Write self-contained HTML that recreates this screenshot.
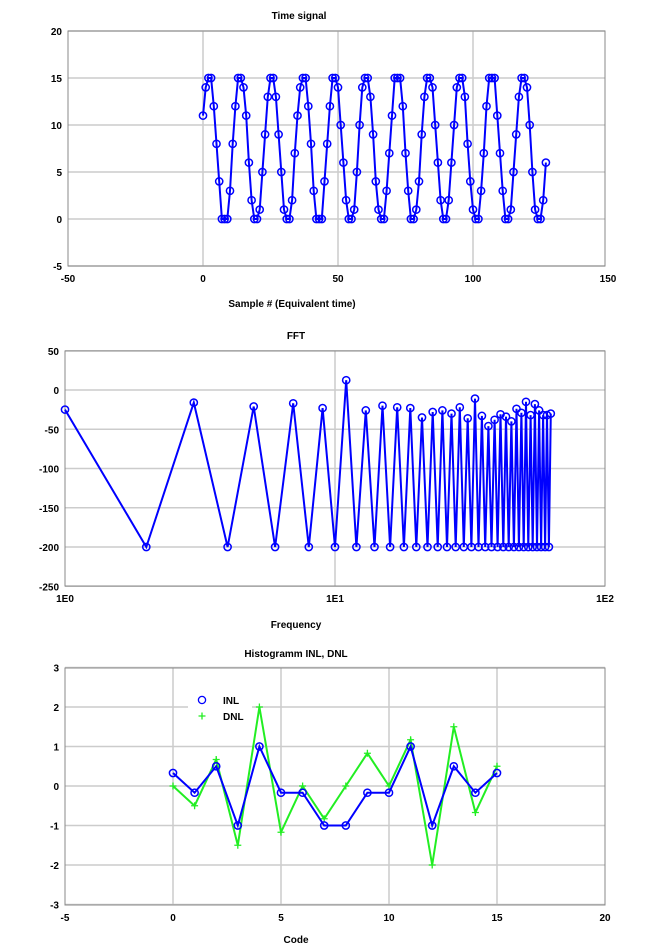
<!DOCTYPE html>
<html><head><style>
body{margin:0;background:#fff;}
svg{display:block;font-family:"Liberation Sans",sans-serif;font-weight:bold;}
</style></head><body>
<svg id="s" width="652" height="943" xmlns="http://www.w3.org/2000/svg"></svg>
<script>
const s=document.getElementById('s');let h='';
function box(x0,y0,x1,y1){h+=`<rect x="${x0}" y="${y0}" width="${x1-x0}" height="${y1-y0}" fill="none" stroke="#888" stroke-width="1"/>`;}
function t(x,y,str,anchor,size){h+=`<text x="${x}" y="${y}" font-size="${size||10}" text-anchor="${anchor||'middle'}">${str}</text>`;}
function gl(x1,y1,x2,y2){h+=`<line x1="${x1}" y1="${y1}" x2="${x2}" y2="${y2}" stroke="#ccc" stroke-width="1.5"/>`;}
function poly(pts,col,w){h+=`<polyline points="${pts.map(p=>p[0].toFixed(1)+','+p[1].toFixed(1)).join(' ')}" fill="none" stroke="${col}" stroke-width="${w||2}"/>`;}
function circ(pts){pts.forEach(p=>{h+=`<circle cx="${p[0].toFixed(1)}" cy="${p[1].toFixed(1)}" r="3.6" fill="none" stroke="#00f" stroke-width="1.5"/>`;});}
// Chart 1
{const X=v=>203+v*2.7,Y=v=>219-v*9.4;
for(let v=-5;v<=20;v+=5)gl(68,Y(v),605,Y(v));
for(let v=0;v<=100;v+=50)gl(X(v),31,X(v),266);
box(68,31,605,266);
t(299,19,'Time signal');
for(let v=-5;v<=20;v+=5)t(62,Y(v)+4,v,'end');
for(let v=-50;v<=150;v+=50)t(X(v),282,v);
t(292,307,'Sample # (Equivalent time)');
let p=[];for(let n=0;n<128;n++){let v=Math.round(7.5+8.4*Math.sin(2*Math.PI*11*n/128+0.38));v=Math.max(0,Math.min(15,v));p.push([X(n),Y(v)]);}
poly(p,'#00f',2);circ(p);}
// Chart 2
{const X=f=>65+Math.log10(f)*270,Y=v=>390-v*0.785;
for(let v=-250;v<=50;v+=50)gl(65,Y(v),605,Y(v));
gl(335,351,335,586);
box(65,351,605,586);
t(296,339,'FFT');
for(let v=-250;v<=50;v+=50)t(59,Y(v)+4,v,'end');
t(65,602,'1E0');t(335,602,'1E1');t(605,602,'1E2');
t(296,628,'Frequency');
const od={1:-25,3:-16,5:-21,7:-17,9:-23,11:12.5,13:-26,15:-20,17:-22,19:-23,21:-35,23:-28,25:-26,27:-30,29:-22,31:-36,33:-11,35:-33,37:-46,39:-38,41:-31,43:-34,45:-40,47:-24,49:-29,51:-15,53:-32,55:-18,57:-26,59:-32,61:-32,63:-30};
let p=[];for(let f=1;f<=63;f++){p.push([X(f),Y(f%2?od[f]:-200)]);}
poly(p,'#00f',2);circ(p);}
// Chart 3
{const X=v=>173+v*21.6,Y=v=>786-v*39.5;
for(let v=-3;v<=3;v++)gl(65,Y(v),605,Y(v));
for(let v=0;v<=15;v+=5)gl(X(v),668,X(v),905);
box(65,668,605,905);
t(296,657,'Histogramm INL, DNL');
for(let v=-3;v<=3;v++)t(59,Y(v)+4,v,'end');
for(let v=-5;v<=20;v+=5)t(X(v),921,v);
t(296,943,'Code');
const inl=[0.33,-0.17,0.5,-1,1,-0.17,-0.17,-1,-1,-0.17,-0.17,1,-1,0.5,-0.17,0.33];
const dnl=[0,-0.5,0.67,-1.5,2,-1.17,0,-0.83,0,0.83,0,1.17,-2,1.5,-0.67,0.5];
let pd=dnl.map((v,i)=>[X(i),Y(v)]);poly(pd,'#2e2',2);
pd.forEach(p=>{h+=`<path d="M${p[0]-3.5},${p[1]}h7M${p[0]},${p[1]-3.5}v7" stroke="#2e2" stroke-width="1.3"/>`;});
let pi=inl.map((v,i)=>[X(i),Y(v)]);poly(pi,'#00f',2);circ(pi);
h+=`<rect x="188" y="690" width="64" height="32" fill="#fff"/>`;
h+=`<circle cx="202" cy="700" r="3.6" fill="none" stroke="#00f" stroke-width="1.3"/>`;
h+=`<path d="M198.5,716h7M202,712.5v7" stroke="#2e2" stroke-width="1.3"/>`;
t(223,704,'INL','start');t(223,720,'DNL','start');}
s.innerHTML=h;
</script>
</body></html>
